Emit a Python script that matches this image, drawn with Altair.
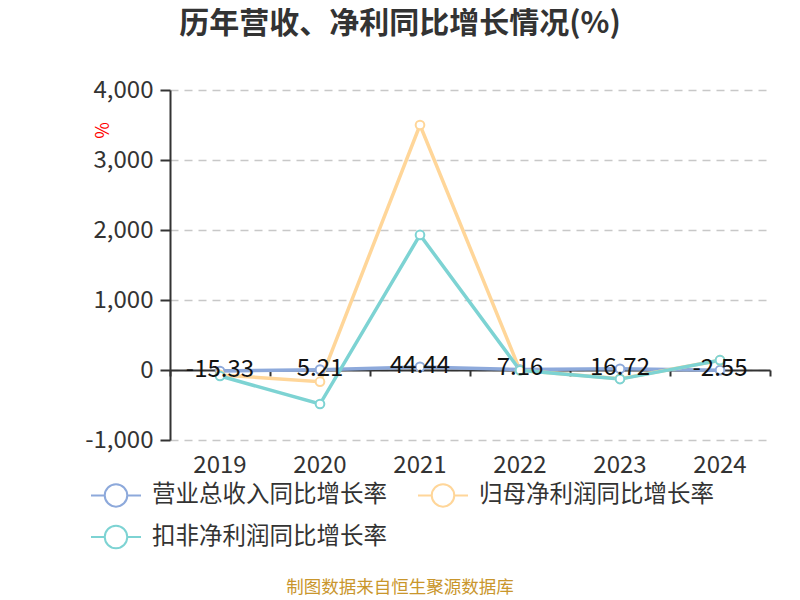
import pandas as pd
import altair as alt

# values
YEARS = ["2019", "2020", "2021", "2022", "2023", "2024"]
REVENUE = [-15.33, 5.21, 44.44, 7.16, 16.72, -2.55]
NET_PROFIT = [-70, -167, 3500, -5, -125, 140]
DEDUCTED = [-86, -486, 1930, -5, -130, 140]

S_REV = "营业总收入同比增长率"
S_NET = "归母净利润同比增长率"
S_DED = "扣非净利润同比增长率"
SERIES = [S_REV, S_NET, S_DED]
COLORS = ["#8DA9DB", "#FFD699", "#7DD3D3"]

FONT = "Noto Sans CJK SC"
TEXT = "#333333"
MINUS = "\u2212"

rows = []
for name, vals in zip(SERIES, [REVENUE, NET_PROFIT, DEDUCTED]):
    for y, v in zip(YEARS, vals):
        rows.append({"year": y, "series": name, "value": v})
df = pd.DataFrame(rows)
rev_df = pd.DataFrame({"year": YEARS, "value": REVENUE,
                       "label": [f"{v:.2f}" for v in REVENUE]})
zero_df = pd.DataFrame({"year": YEARS, "value": [0] * len(YEARS)})

# legend symbol: a short line with a hollow circle in the middle
LEGEND_SYMBOL = ("M-1,0L-0.45,0M0.45,0L1,0"
                 "M-0.45,0A0.45,0.45 0 1,1 0.45,0A0.45,0.45 0 1,1 -0.45,0Z")

y_scale = alt.Scale(domain=[-1000, 4000], nice=False)
x_main = alt.X("year:N", sort=YEARS, scale=alt.Scale(paddingInner=0, paddingOuter=0),
               axis=alt.Axis(title=None, orient="bottom", domain=False, ticks=False,
                             labelAngle=0, labelFontSize=24, labelColor=TEXT,
                             labelFont=FONT, labelPadding=13, grid=False))

lines = alt.Chart(df).mark_line(strokeWidth=3.5).encode(
    x=x_main,
    y=alt.Y("value:Q", scale=y_scale,
            axis=alt.Axis(title="%", titleColor="#FF0000", titleFontSize=18,
                          titleFont=FONT, titleFontWeight="normal", titleAngle=-90,
                          titleX=-58, titleY=40,
                          values=[-1000, 0, 1000, 2000, 3000, 4000],
                          labelExpr="replace(format(datum.value, ',.0f'), '%s', '-')" % MINUS,
                          labelFontSize=24, labelColor=TEXT, labelFont=FONT,
                          labelPadding=7, domainColor=TEXT, domainWidth=2,
                          tickColor=TEXT, tickSize=10, tickWidth=2,
                          grid=True, gridColor="#C8C8C8", gridDash=[8, 6],
                          gridWidth=1.5)),
    color=alt.Color("series:N", sort=SERIES,
                    scale=alt.Scale(domain=SERIES, range=COLORS),
                    legend=alt.Legend(title=None, orient="none", legendX=-80,
                                      legendY=379, direction="horizontal",
                                      columns=2, columnPadding=27,
                                      rowPadding=0, labelFontSize=23.5,
                                      labelFont=FONT, labelColor=TEXT,
                                      labelLimit=400,
                                      symbolType=LEGEND_SYMBOL, symbolSize=2500,
                                      symbolStrokeWidth=2, symbolFillColor="white",
                                      labelOffset=10)),
    order=alt.Order("series_order:Q"),
)

points = alt.Chart(df).mark_point(filled=True, fill="white", size=75,
                                  strokeWidth=2, opacity=1).encode(
    x=alt.X("year:N", sort=YEARS, axis=None),
    y=alt.Y("value:Q", scale=y_scale),
    stroke=alt.Color("series:N", sort=SERIES,
                     scale=alt.Scale(domain=SERIES, range=COLORS), legend=None),
)

labels = alt.Chart(rev_df).mark_text(fontSize=24, font=FONT, color="#111111",
                                      baseline="middle", dy=-1).encode(
    x=alt.X("year:N", sort=YEARS, axis=None),
    y=alt.Y("value:Q", scale=y_scale),
    text="label:N",
)

# x axis line drawn at zero, with ticks at the band edges
zero_axis = alt.Chart(zero_df).mark_rule(opacity=0).encode(
    x=alt.X("year:N", sort=YEARS,
            axis=alt.Axis(title=None, orient="bottom", labels=False, offset=-70,
                          domainColor=TEXT, domainWidth=2, tickColor=TEXT,
                          tickWidth=2, tickSize=6, tickBand="extent", grid=False)),
    y=alt.Y("value:Q", scale=y_scale),
)

source = alt.Chart(pd.DataFrame({"t": ["制图数据来自恒生聚源数据库"]})).mark_text(
    fontSize=17.5, font=FONT, color="#C9962C").encode(
    text="t:N", x=alt.value(230), y=alt.value(498))

chart = alt.layer(zero_axis, lines, points, labels, source).transform_calculate(
    series_order="indexof(['%s','%s','%s'], datum.series)" % (S_REV, S_NET, S_DED)
).resolve_axis(x="independent").properties(
    width=600,
    height=350,
    autosize=alt.AutoSizeParams(type="none"),
    padding={"left": 162, "top": 82, "right": 22, "bottom": 160},
    title=alt.TitleParams("历年营收、净利同比增长情况(%)", fontSize=30, font=FONT,
                          fontWeight="bold", color=TEXT, anchor="middle",
                          frame="group", offset=39, dx=-70),
    background="white",
).configure_view(stroke=None)

chart.save("out.html", embed_options={"renderer": "svg", "actions": False})
